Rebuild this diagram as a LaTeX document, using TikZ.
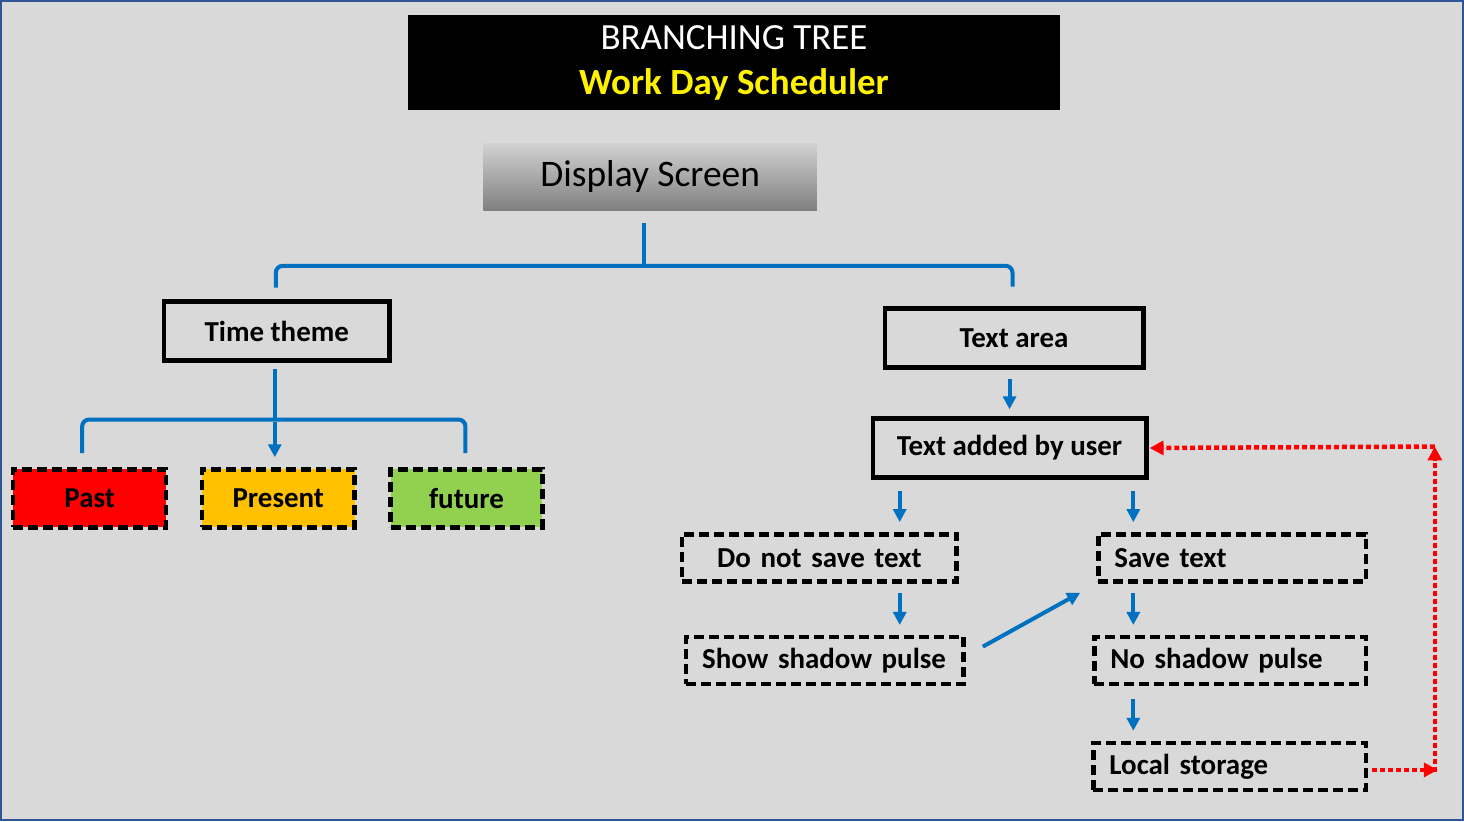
\documentclass[tikz,border=0pt]{standalone}
\usepackage{fontspec}
\setmainfont{Carlito}
\usepackage{tikz}
\usetikzlibrary{arrows.meta}
\usepackage{xcolor}
\definecolor{bgray}{HTML}{D9D9D9}
\definecolor{frameblue}{HTML}{2F5597}
\definecolor{lineblue}{HTML}{0070C0}
\definecolor{pastred}{HTML}{FF0000}
\definecolor{presorange}{HTML}{FFC000}
\definecolor{futgreen}{HTML}{92D050}
\definecolor{shadetop}{HTML}{D2D2D2}
\definecolor{shadebot}{HTML}{7F7F7F}

\begin{document}
\begin{tikzpicture}[x=1pt,y=-1pt,
    solidbox/.style={draw, line width=4.5pt, minimum height=59pt, font=\fontsize{29}{32}\selectfont\bfseries},
    dashbox/.style={draw, line width=4.5pt, dash pattern=on 10pt off 5pt, minimum height=58pt, font=\fontsize{29}{32}\selectfont\bfseries},
    stepnote/.style={draw, line width=4.5pt, dash pattern=on 10pt off 5pt, minimum height=47pt, inner xsep=16pt, align=left, font=\fontsize{29}{32}\selectfont\bfseries},
    brace/.style={draw=lineblue, line width=4pt, rounded corners=7pt},
    arr/.style={draw=lineblue, line width=4pt, -{Triangle[length=13pt,width=13pt]}},
    loop/.style={draw=pastred, line width=4.5pt, dash pattern=on 5pt off 3pt, -{Triangle[length=14pt,width=14pt]}}]
                \path[fill=bgray, draw=frameblue, line width=2.5pt] (0,0) rectangle (1464,820);
                % title and top
                \node[fill=black, minimum width=654pt, minimum height=95pt, align=center, text=white, font=\fontsize{37}{45}\selectfont](title) at (734,61.5){BRANCHING TREE\\\textcolor{yellow}{\bfseries Work Day Scheduler}};
                \node[shade, top color=shadetop, bottom color=shadebot, minimum width=334pt, minimum height=68pt, font=\fontsize{37.5}{40}\selectfont](ds) at (650,176){Display Screen};
                % left branch
                \node[solidbox, minimum width=226pt](tt) at (276,330.5){Time theme};
                \node[dashbox, fill=pastred, minimum width=153pt](pa) at (88.5,498){Past};
                \node[dashbox, fill=presorange, minimum width=153pt](pr) at (277.5,498){Present};
                \node[dashbox, fill=futgreen, minimum width=152pt](fu) at (466,498){future};
                % right branch
                \node[solidbox, minimum width=259pt](ta) at (1014.5,337.5){Text area};
                \node[solidbox, minimum width=274pt](tu) at (1010,447.5){Text added by user};
                \node[stepnote, text width=243pt, align=center](dn) at (819.5,557.5){Do not save text};
                \node[stepnote, text width=236pt](st) at (1233,557.5){Save text};
                \node[stepnote, text width=246pt](ss) at (825,660.5){Show shadow pulse};
                \node[stepnote, text width=240pt](ns) at (1231,660.5){No shadow pulse};
                \node[stepnote, text width=241pt](ls) at (1230.5,766.5){Local storage};
                \coordinate (c1) at (1439,770);
                \coordinate (c2) at (1436,446);
                % braces
                \draw[brace, rounded corners=0pt] ([xshift=-6pt,yshift=-12pt]ds.south) -- (644,265);
                \draw[brace] ([xshift=-1pt,yshift=12pt]tt.north) |- (644,265) -| ([xshift=-1.5pt,yshift=20pt]ta.north);
                \draw[brace, rounded corners=0pt] ([xshift=-2pt,yshift=-6pt]tt.south) -- (274,419);
                \draw[brace] ([xshift=-7.5pt,yshift=14pt]pa.north) |- (274,419) -| ([xshift=-1pt,yshift=14pt]fu.north);
                \draw[arr] (274,421) -- ([xshift=-3.5pt,yshift=10pt]pr.north);
                % arrows
                \draw[arr] ([xshift=-4.5pt,yshift=-9pt]ta.south) -- ([yshift=7pt]tu.north);
                \draw[arr] ([xshift=80.5pt,yshift=-11pt]dn.north |- tu.south) -- ([xshift=80.5pt,yshift=10pt]dn.north);
                \draw[arr] ([xshift=-99pt,yshift=-11pt]st.north |- tu.south) -- ([xshift=-99pt,yshift=10pt]st.north);
                \draw[arr] ([xshift=80.5pt,yshift=-10pt]dn.south) -- ([xshift=75pt,yshift=10pt]ss.north);
                \draw[arr] ([xshift=-99pt,yshift=-10pt]st.south) -- ([xshift=-97pt,yshift=10pt]ns.north);
                \draw[arr] ([xshift=-97pt,yshift=-13pt]ns.south) -- ([xshift=-96.5pt,yshift=10pt]ls.north);
                \draw[arr] ([xshift=17pt,yshift=14pt]ss.east) -- ([xshift=-16pt,yshift=-35pt]st.west);
                % storage loop
                \draw[loop] ([xshift=4pt,yshift=-3.5pt]ls.east) -- (c1);
                \draw[loop] (1436,772) -- (c2);
                \draw[loop] (c2) -- ([xshift=1pt]tu.east);
                \end{tikzpicture}
\end{document}
